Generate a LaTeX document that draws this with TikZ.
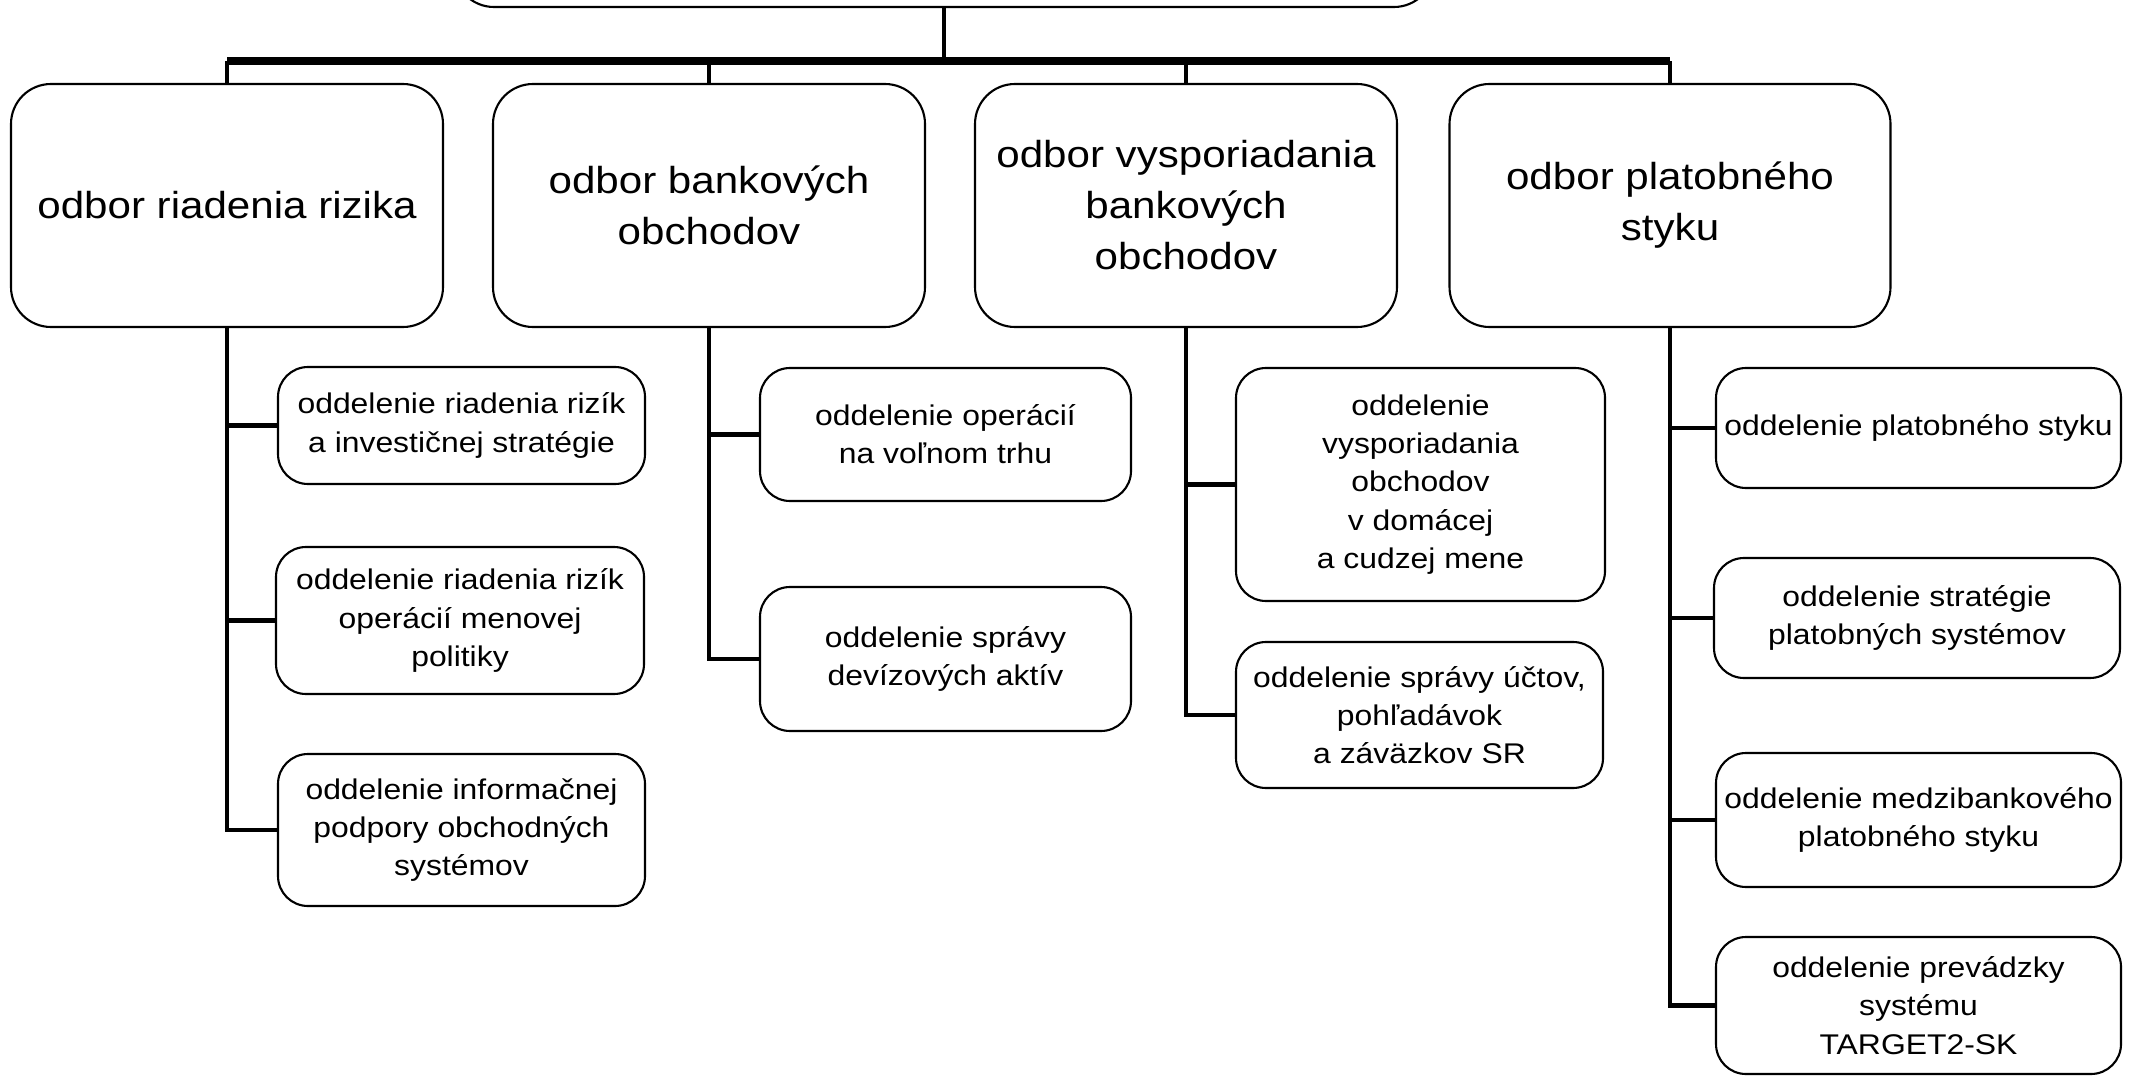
\documentclass[tikz,border=0pt]{standalone}
\usepackage{fontspec}
\setmainfont{Liberation Sans}[FakeStretch=1.12]
\usetikzlibrary{positioning}
\tikzset{
 hd/.style
  = {rectangle, draw, rounded corners=0.4cm, inner sep=0pt, align=center,
     font=\fontsize{10.7}{14.5}\selectfont, minimum height=2.43cm, line width=0.6pt},
 sb/.style
  = {rectangle, draw, rounded corners=0.3cm, inner sep=0pt, align=center,
     font=\fontsize{8.1}{10.9}\selectfont, line width=0.6pt},
 bus/.style
  = {draw, line width=2pt},
 br/.style
  = {draw, line width=1.4pt},
}

\begin{document}
\begin{tikzpicture}

\useasboundingbox (0,0) rectangle (21.36,-10.77);
\clip (0,0) rectangle (21.36,-10.77);

% Top box (cut at the edge)
\node[hd, minimum width=9.8cm, minimum height=1cm] (top) at (9.44,0.43) {};

% Head boxes
\node[hd, minimum width=4.32cm] (riz) at (2.27,-2.055) {odbor riadenia rizika};
\node[hd, minimum width=4.32cm] (ban) at (7.09,-2.055) {odbor bankových\\obchodov};
\node[hd, minimum width=4.22cm] (vys) at (11.86,-2.055) {odbor vysporiadania\\bankových\\obchodov};
\node[hd, minimum width=4.41cm] (pla) at (16.70,-2.055) {odbor platobného\\styku};

% Bus
\coordinate (bus) at (0,-0.61);
\draw[br] (top.south) -- (top.south |- bus);
\draw[bus] (bus -| riz.north) -- (bus -| pla.north);
\foreach \n in {riz,ban,vys,pla}
  \draw[br] (\n.north) -- (\n.north |- bus);

% Odbor riadenia rizika
\node[sb, minimum width=3.67cm, minimum height=1.17cm] (riz1) at (4.615,-4.255) {oddelenie riadenia rizík\\a investičnej stratégie};
\node[sb, minimum width=3.68cm, minimum height=1.47cm] (riz2) at (4.60,-6.205) {oddelenie riadenia rizík\\operácií menovej\\politiky};
\node[sb, minimum width=3.67cm, minimum height=1.52cm] (riz3) at (4.615,-8.30) {oddelenie informačnej\\podpory obchodných\\systémov};

% Odbor bankovych obchodov
\node[sb, minimum width=3.71cm, minimum height=1.33cm] (ban1) at (9.455,-4.345) {oddelenie operácií\\na voľnom trhu};
\node[sb, minimum width=3.71cm, minimum height=1.44cm] (ban2) at (9.455,-6.59) {oddelenie správy\\devízových aktív};

% Odbor vysporiadania
\node[sb, minimum width=3.69cm, minimum height=2.33cm] (vys1) at (14.205,-4.845) {oddelenie\\vysporiadania\\obchodov\\v domácej\\a cudzej mene};
\node[sb, minimum width=3.67cm, minimum height=1.46cm] (vys2) at (14.195,-7.15) {oddelenie správy účtov,\\pohľadávok\\a záväzkov SR};

% Odbor platobneho styku
\node[sb, minimum width=4.05cm, minimum height=1.20cm] (pla1) at (19.185,-4.28) {oddelenie platobného styku};
\node[sb, minimum width=4.06cm, minimum height=1.20cm] (pla2) at (19.17,-6.18) {oddelenie stratégie\\platobných systémov};
\node[sb, minimum width=4.05cm, minimum height=1.34cm] (pla3) at (19.185,-8.20) {oddelenie medzibankového\\platobného styku};
\node[sb, minimum width=4.05cm, minimum height=1.37cm] (pla4) at (19.185,-10.055) {oddelenie prevádzky\\systému\\TARGET2-SK};

% Branches
\draw[br] (riz.south) |- (riz3.west);
\foreach \n in {riz1,riz2}
  \draw[br] (riz.south |- \n.west) -- (\n.west);
\draw[br] (ban.south) |- (ban2.west);
\draw[br] (ban.south |- ban1.west) -- (ban1.west);
\draw[br] (vys.south) |- (vys2.west);
\draw[br] (vys.south |- vys1.west) -- (vys1.west);
\draw[br] (pla.south) |- (pla4.west);
\foreach \n in {pla1,pla2,pla3}
  \draw[br] (pla.south |- \n.west) -- (\n.west);

\end{tikzpicture}
\end{document}
